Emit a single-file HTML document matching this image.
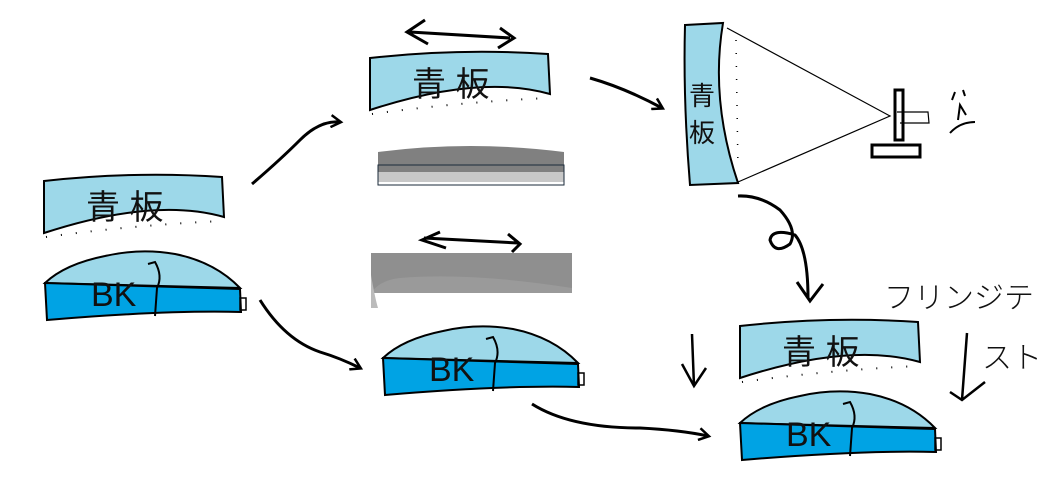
<!DOCTYPE html>
<html><head><meta charset="utf-8"><style>
html,body{margin:0;padding:0;background:#fff;}
svg{display:block}
text{font-family:"Liberation Sans","Noto Sans CJK JP",sans-serif;}
</style></head><body>
<svg width="1052" height="502" viewBox="0 0 1052 502" xmlns="http://www.w3.org/2000/svg">
<defs>
<g id="ao">
  <path d="M0,6 Q90,-4 178,2 L180,42 Q110,22 0,58 Z" fill="#9dd8e9" stroke="#000" stroke-width="2"/>
  <text x="42" y="44" font-size="34" fill="#111">青 板</text>
  <path d="M2,62 Q90,50 178,46" fill="none" stroke="#000" stroke-width="2" stroke-dasharray="1 14"/>
</g>
<g id="bk">
  <path d="M0,35 Q20,16 60,8 Q95,0 130,6 Q170,14 195,40 Z" fill="#9dd8e9" stroke="#000" stroke-width="2"/>
  <path d="M0,35 L195,41 L196,64 Q120,62 2,72 Z" fill="#00a3e4" stroke="#000" stroke-width="2"/>
  <text x="46" y="58" font-size="34" fill="#111">BK</text>
  <path d="M103,16 L110,14 Q118,28 112,40 L110,68" fill="none" stroke="#000" stroke-width="2"/>
  <rect x="195" y="50" width="6" height="12" fill="none" stroke="#000" stroke-width="1.5"/>
</g>
<marker id="ah" markerWidth="14" markerHeight="14" refX="10" refY="7" orient="auto" markerUnits="userSpaceOnUse">
  <path d="M1,1 L11,7 L1,13" fill="none" stroke="#000" stroke-width="2.5"/>
</marker>
</defs>

<use href="#ao" x="44" y="175"/>
<use href="#bk" x="45" y="248"/>

<use href="#ao" x="370" y="52"/>
<path d="M425,20 L407,32 L428,44 M410,32 L510,38 M500,28 L514,38 L498,48" fill="none" stroke="#000" stroke-width="3"/>
<rect x="378" y="152" width="186" height="30" fill="#c8c8c8"/>
<path d="M378,152 Q470,140 564,152 L564,172 L378,172 Z" fill="#808080"/>
<rect x="378" y="165" width="186" height="20" fill="none" stroke="#1a2a3a" stroke-width="1"/>
<path d="M440,232 L422,240 L446,248 M424,238 L518,243 M508,234 L520,244 L512,252" fill="none" stroke="#000" stroke-width="3"/>
<rect x="371" y="253" width="201" height="40" fill="#9a9a9a"/>
<rect x="371" y="253" width="201" height="10" fill="#b8b8b8"/>
<path d="M371,293 Q380,280 400,278 Q470,272 572,288 L572,253 L371,253 Z" fill="#8f8f8f"/>
<path d="M371,275 Q375,298 378,308 L371,308 Z" fill="#bbb"/>
<use href="#bk" x="383" y="323"/>

<use href="#ao" x="740" y="320"/>
<use href="#bk" x="740" y="388"/>

<!-- arrows -->
<path d="M252,184 Q280,160 300,140 Q320,120 340,122" fill="none" stroke="#000" stroke-width="3" marker-end="url(#ah)"/>
<path d="M260,300 Q285,340 320,352 Q340,358 360,368" fill="none" stroke="#000" stroke-width="3" marker-end="url(#ah)"/>
<path d="M590,78 Q625,88 662,108" fill="none" stroke="#000" stroke-width="3" marker-end="url(#ah)"/>
<path d="M532,404 Q570,428 640,428 Q680,430 708,436" fill="none" stroke="#000" stroke-width="3" marker-end="url(#ah)"/>
<path d="M738,196 Q760,195 780,210 Q798,230 790,244 Q775,255 770,240 Q772,228 795,235 Q808,250 808,298" fill="none" stroke="#000" stroke-width="3"/>
<path d="M797,282 L810,301 L823,284" fill="none" stroke="#000" stroke-width="3"/>
<path d="M692,334 L694,386 M682,364 L694,386 L706,368" fill="none" stroke="#000" stroke-width="2.5"/>
<path d="M967,333 L962,400 M950,392 L962,400 L985,382" fill="none" stroke="#000" stroke-width="2.5"/>

<!-- right vertical panel -->
<path d="M685,25 L723,23 Q710,100 738,183 L690,185 Q683,100 685,25 Z" fill="#9dd8e9" stroke="#000" stroke-width="2"/>
<text x="689" y="105" font-size="26" fill="#111">青</text>
<text x="689" y="142" font-size="26" fill="#111">板</text>
<path d="M727,28 L890,116 L738,182" fill="none" stroke="#000" stroke-width="1.2"/>
<path d="M736,40 L738,170" fill="none" stroke="#000" stroke-width="1.5" stroke-dasharray="1 12"/>
<rect x="895" y="90" width="8" height="50" fill="none" stroke="#000" stroke-width="3"/>
<rect x="872" y="145" width="48" height="12" fill="none" stroke="#000" stroke-width="3"/>
<path d="M897,112 L928,112 L929,123 L900,123" fill="none" stroke="#000" stroke-width="1.2"/>
<path d="M950,133 Q960,122 975,122 M958,120 L960,105 L966,115 M952,100 L955,92 M965,96 L963,90" fill="none" stroke="#000" stroke-width="2"/>

<text x="884" y="308" font-size="30" fill="#111" font-weight="300">フリンジテ</text>
<text x="982" y="368" font-size="30" fill="#111" font-weight="300">スト</text>
</svg>
</body></html>
